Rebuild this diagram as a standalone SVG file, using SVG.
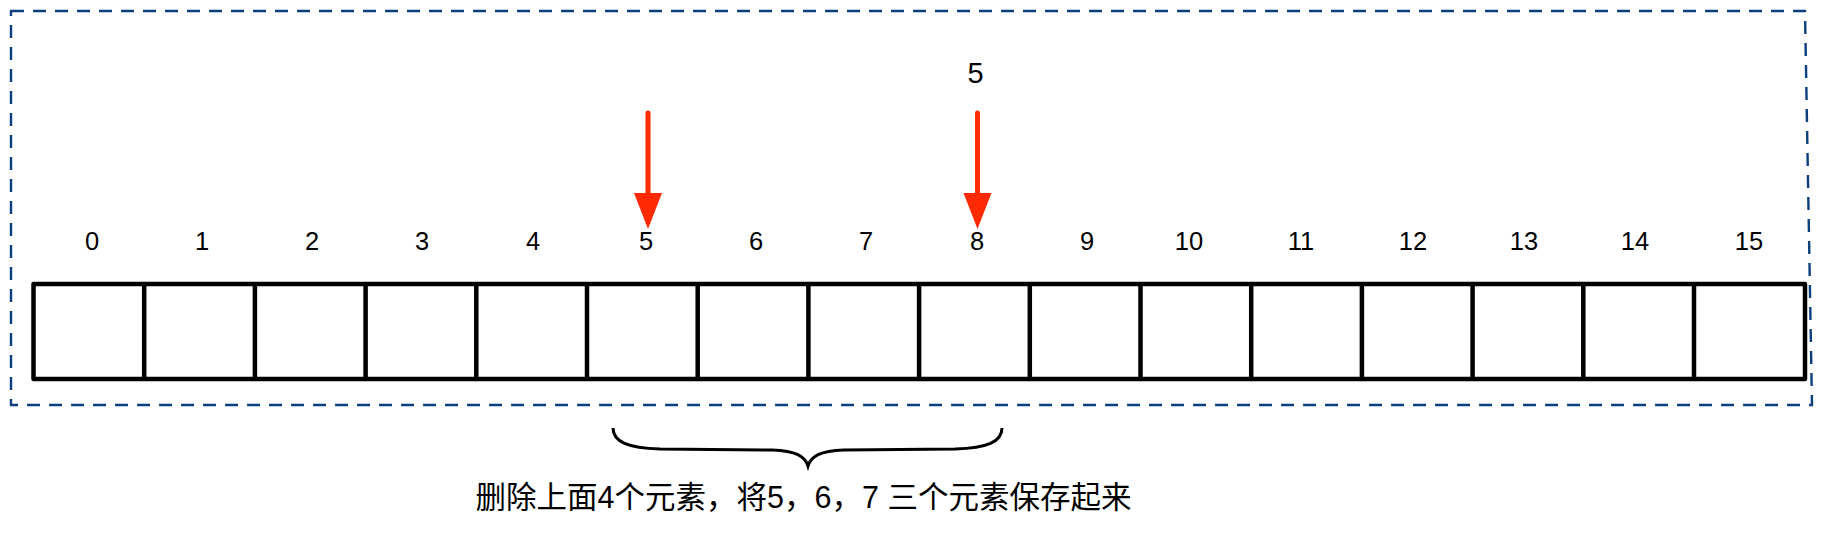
<svg xmlns="http://www.w3.org/2000/svg" width="1824" height="533" viewBox="0 0 1824 533">
<style>
.frame{fill:none;stroke:#0b3f7e;stroke-width:2.4;stroke-dasharray:13 9}
.cell{fill:#fff;stroke:#000;stroke-width:4.5;stroke-linejoin:round}
.idx{font-family:"Liberation Sans",Arial,sans-serif;font-size:25.5px;fill:#000;text-anchor:middle}
.ptr{stroke:#ff2a00;stroke-width:5;stroke-linecap:round}
.head{fill:#ff2a00}
.cap{font-family:"Liberation Sans","Noto Sans CJK SC",sans-serif;font-size:30.5px;fill:#000;text-anchor:middle}
</style>
<g id="frame"><path class="frame" d="M11,11 L1805,11 L1812,405 L11,405 Z"/></g>
<g id="array">
<rect class="cell" x="33.5" y="284" width="1771.5" height="95"/>
<path d="M144.2,284V379M254.9,284V379M365.6,284V379M476.3,284V379M587,284V379M697.7,284V379M808.4,284V379M919.1,284V379M1029.8,284V379M1140.5,284V379M1251.2,284V379M1361.9,284V379M1472.6,284V379M1583.3,284V379M1694,284V379" stroke="#000" stroke-width="4.5"/>
</g>
<g id="indices">
<text class="idx" x="92" y="250">0</text>
<text class="idx" x="202" y="250">1</text>
<text class="idx" x="312" y="250">2</text>
<text class="idx" x="422" y="250">3</text>
<text class="idx" x="533" y="250">4</text>
<text class="idx" x="646" y="250">5</text>
<text class="idx" x="756" y="250">6</text>
<text class="idx" x="866" y="250">7</text>
<text class="idx" x="977" y="250">8</text>
<text class="idx" x="1087" y="250">9</text>
<text class="idx" x="1189" y="250">10</text>
<text class="idx" x="1301" y="250">11</text>
<text class="idx" x="1413" y="250">12</text>
<text class="idx" x="1524" y="250">13</text>
<text class="idx" x="1635" y="250">14</text>
<text class="idx" x="1749" y="250">15</text>
</g>
<g id="label5"><text class="idx" x="975.5" y="83" style="font-size:29px">5</text></g>
<g id="connectors">
<line class="ptr" x1="648" y1="113" x2="648" y2="196"/>
<polygon class="head" points="634,193 662,193 648,229"/>
<line class="ptr" x1="977.5" y1="113" x2="977.5" y2="196"/>
<polygon class="head" points="963.5,193 991.5,193 977.5,229"/>
</g>
<g id="brace"><path d="M613,428 C613,442 628,448 660,449 L772,450 C796,451 805,456 808,466 C811,456 820,451 844,450 L955,449 C987,448 1002,442 1002,428" fill="none" stroke="#000" stroke-width="3"/></g>
<g id="caption"><text class="cap" x="803.5" y="508">删除上面4个元素，将5，6，7 三个元素保存起来</text></g>
</svg>
